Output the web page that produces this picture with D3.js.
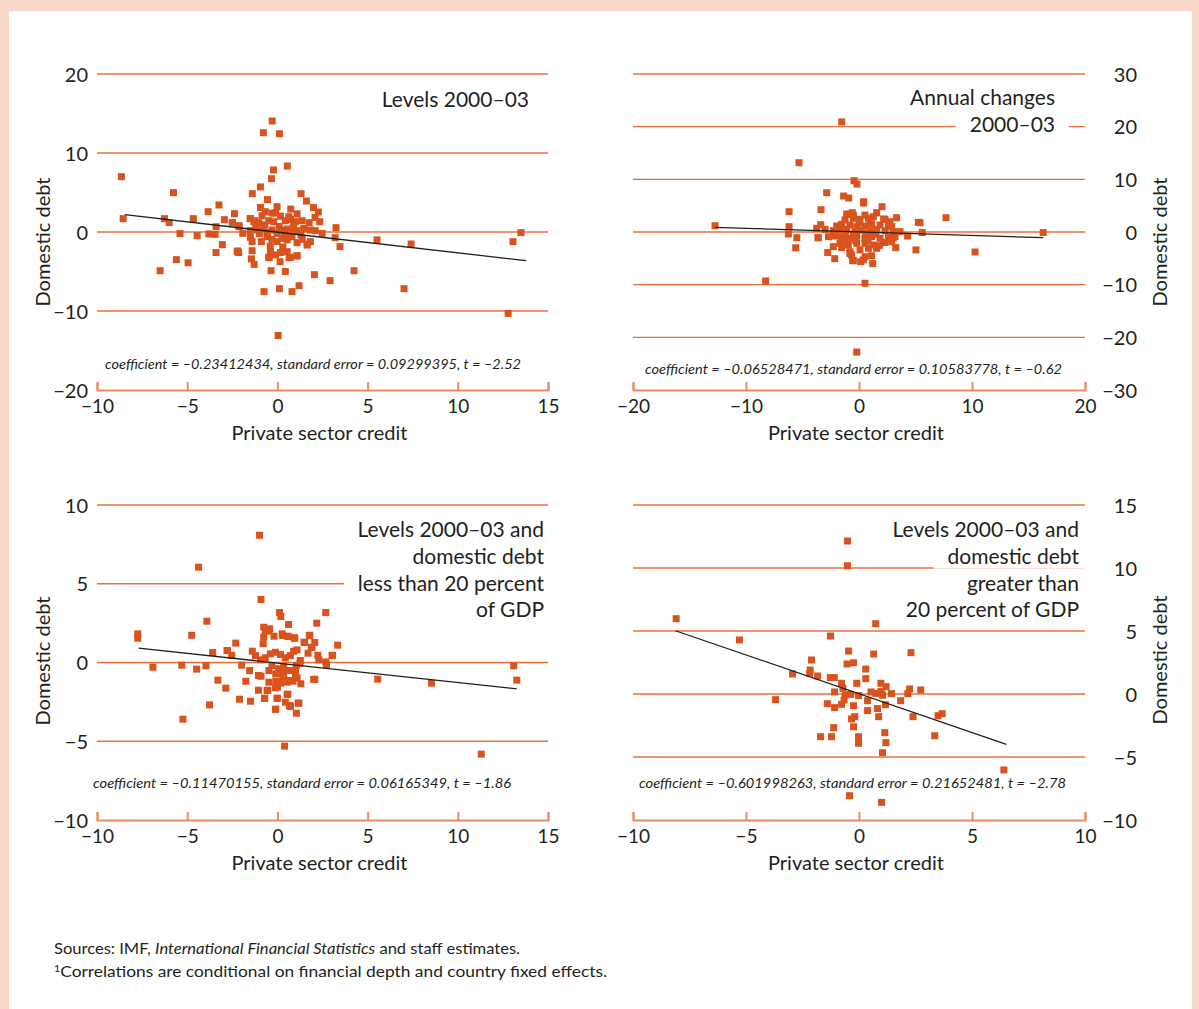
<!DOCTYPE html>
<html><head><meta charset="utf-8">
<script src="https://cdn.jsdelivr.net/npm/d3@7"></script>
<style>
body{margin:0;background:#fff}
svg{display:block}
text{font-family:Lato,'Noto Sans',sans-serif;fill:#231f20}
</style>
</head><body>
<svg id="c" width="1199" height="1009"></svg>
<script>
// ---------- DATA ----------
const p1Points = [[-0.29,14.05],[-0.78,12.57],[0.11,12.44],[0.55,8.35],[-0.22,7.85],[-0.33,6.75],[-8.65,7.0],[-0.94,5.7],[-5.76,4.98],[-1.39,4.85],[1.31,4.85],[1.61,3.92],[-0.55,4.1],[-3.24,3.42],[-0.94,3.1],[-0.02,3.2],[0.74,2.9],[2.0,3.1],[2.27,2.53],[-3.84,2.57],[-2.38,2.32],[-8.55,1.69],[-6.26,1.69],[-6.0,1.18],[-4.66,1.69],[-2.94,1.56],[-3.4,0.67],[-2.49,1.18],[-2.12,0.67],[-1.5,1.7],[-1.3,1.3],[3.25,0.55],[3.2,-0.72],[-5.4,-0.2],[-4.45,-0.46],[-3.8,-0.25],[-3.45,-0.3],[-3.05,-1.6],[-3.4,-2.6],[-2.2,-2.4],[-2.15,-2.6],[3.47,-1.85],[5.52,-1.0],[7.41,-1.52],[13.06,-1.22],[13.5,-0.08],[-5.6,-3.5],[-6.5,-4.9],[-4.95,-3.9],[-1.44,-3.4],[-1.29,-4.1],[-0.46,-3.25],[0.15,-3.76],[-0.35,-4.9],[0.44,-5.0],[1.09,-3.0],[0.65,-3.25],[2.05,-5.4],[2.92,-6.16],[4.25,-4.9],[1.2,-6.8],[0.11,-7.17],[-0.74,-7.55],[0.81,-7.55],[7.02,-7.17],[12.79,-10.3],[0.04,-13.1],
[-0.67,2.57],[-0.3,2.4],[-0.1,2.4],[1.09,2.3],[-0.85,2.06],[0.17,2.0],[0.63,1.94],[-1.51,1.69],[2.09,1.85],[-2.51,1.18],[-2.14,0.8],[-1.26,1.43],[-1.04,1.18],[-0.48,1.43],[-0.2,1.3],[0.44,1.43],[0.74,1.6],[1.0,1.3],[1.37,1.43],[1.76,1.18],[2.35,1.3],[-1.92,-0.17],[-1.5,0.17],[-1.13,0.25],[-0.76,0.46],[-0.57,-0.04],[-0.3,0.25],[-0.02,-0.17],[0.26,0.25],[0.54,0.38],[0.81,0.34],[1.09,0.17],[1.46,0.46],[1.83,0.25],[2.1,0.17],[2.48,-0.17],[-1.5,-0.67],[-1.4,-1.22],[-0.89,-1.22],[-0.57,-0.59],[-0.3,-0.93],[-0.02,-1.22],[0.26,-0.8],[0.54,-1.0],[0.81,-0.59],[1.09,-1.35],[1.37,-0.93],[1.65,-1.52],[1.83,-1.22],[-2.23,-2.49],[-1.4,-2.37],[-0.39,-2.49],[-0.11,-2.9],[0.17,-2.6],[0.54,-2.49],[0.72,-3.2],[1.09,-3.04],[1.65,-1.65],[-0.48,-3.2],
[-0.7,0.9],[0.1,0.7],[0.4,-0.4],[-1.0,-0.2],[0.9,0.9],[-0.4,-1.8],[0.3,-1.9],[1.3,-0.3],[-1.2,0.6],[0.6,-0.2]];
const p2Points = [[-1.53,20.9],[-5.31,13.15],[-0.44,9.74],[-0.18,9.1],[-2.86,7.46],[-1.36,6.83],[-0.91,6.45],[0.41,5.75],[0.41,5.5],[2.04,4.8],[-3.36,4.23],[-6.19,3.86],[-0.88,3.4],[-0.5,3.2],[0.53,3.2],[1.56,3.66],[3.33,2.72],[7.7,2.72],[5.4,1.77],[2.18,2.47],[-12.74,1.2],[-6.19,1.0],[-3.39,1.39],[16.3,-0.1],[-6.25,-0.38],[-5.5,-1.08],[-5.6,-3.0],[-2.77,-3.9],[5.04,-3.4],[10.27,-3.8],[5.6,-0.1],[4.3,-0.76],[3.63,0.06],[-8.26,-9.3],[0.53,-9.74],[-0.2,-22.8],[-2.15,-5.06],[-0.56,-5.44],[0.15,-5.63],[1.21,-6.0],[1.12,-4.5],[-0.8,-4.1],[0.53,-4.7],[-3.63,-1.08],[3.25,-2.97],[-2.27,-2.78],[-1.53,-2.97],[2.3,-2.0],[2.9,-1.84],[3.04,-1.08],
[-1.09,3.4],[-0.59,3.66],[-1.24,2.28],[-0.5,2.6],[0.09,2.4],[0.83,2.6],[1.27,2.9],[2.3,2.4],[2.74,1.96],[-1.97,1.14],[-1.53,1.46],[-0.8,1.33],[-0.2,1.0],[0.53,1.14],[1.12,1.52],[1.86,1.33],[2.6,1.14],[2.9,1.0],[-3.74,0.7],[-3.0,0.5],[-2.27,0.25],[-1.68,0.38],[-1.09,0.5],[-0.35,0.06],[0.24,0.38],[0.97,0.25],[1.56,0.5],[2.3,0.25],[3.04,0.06],[5.25,1.84],[-3.6,-1.08],[-2.7,-0.9],[-2.12,-0.76],[-1.53,-0.9],[-0.8,-1.2],[-0.2,-0.76],[0.53,-1.2],[1.12,-0.9],[1.86,-1.2],[2.6,-1.0],[3.19,-0.9],[-1.68,-2.15],[-0.95,-2.47],[-0.2,-2.15],[0.53,-2.15],[1.27,-2.47],[2.15,-1.96],[-0.8,-3.74],[0.09,-3.4],[0.83,-3.1],[1.56,-3.1],[-0.65,-4.36],[-0.5,-5.44],[0.38,-5.3],
[-0.5,-0.4],[0.6,-0.3],[1.5,-0.4],[-1.2,-0.3],[0.0,1.8],[1.0,1.9],[-0.3,-1.6],[0.8,-1.7],[1.8,-2.6],[-1.1,-1.6]];
const p3Points = [[-0.99,8.08],[-4.37,6.05],[-0.91,4.0],[0.12,3.17],[0.19,2.92],[2.68,3.17],[-3.91,2.62],[0.62,2.41],[2.18,2.5],[-7.74,1.82],[-7.74,1.54],[-4.75,1.73],[-0.76,2.24],[-0.43,2.14],[-0.76,1.61],[-0.19,1.67],[0.29,1.71],[0.58,1.67],[0.96,1.54],[1.8,1.73],[3.34,1.1],[2.07,1.27],[1.91,0.95],[1.51,1.27],[-2.31,1.23],[-2.77,0.76],[-2.53,0.46],[-3.59,0.63],[-1.39,0.72],[3.06,0.46],[2.24,0.46],[2.3,0.17],[2.68,0.04],[2.72,-0.13],[-6.9,-0.3],[-5.3,-0.17],[-4.48,-0.42],[-3.96,-0.21],[-1.98,-0.17],[-1.54,-0.51],[13.1,-0.21],[13.27,-1.12],[5.56,-1.06],[8.54,-1.31],[2.07,-1.06],[1.3,-1.35],[-3.3,-1.12],[-1.75,-1.19],[-2.86,-1.63],[-3.76,-2.69],[-5.24,-3.6],[-2.1,-2.33],[-1.49,-2.46],[-1.05,-1.76],[-0.53,-1.76],[-0.7,-2.27],[-0.09,-2.96],[0.0,-2.27],[0.58,-2.01],[0.44,-2.52],[0.67,-2.73],[1.05,-3.22],[1.19,-2.58],[0.4,-5.31],[11.3,-5.82],[-0.47,-1.25],[0.0,-1.57],[-0.09,-1.19],[0.29,-0.93],[0.62,-1.14],[0.86,-1.19],[1.0,-0.93],[-0.91,-0.87],[-1.05,-0.83],[-0.47,-0.51],[-0.09,-0.72],[0.29,-0.62],[0.67,-0.51],[1.0,-0.51],[1.05,-0.19],[1.25,-0.04],
[-0.67,2.03],[-0.79,1.19],[-0.48,1.99],[0.26,1.82],[0.59,1.65],[0.93,1.57],[1.48,1.29],[1.77,1.71],[3.03,0.44],[1.7,0.59],[1.88,0.97],[-2.79,0.76],[-1.22,0.44],[-0.94,0.17],[-0.67,0.3],[-0.39,0.55],[-0.11,0.65],[0.17,0.51],[0.44,0.3],[0.72,0.44],[0.9,0.72],[1.09,0.8],[-0.3,-0.19],[0.07,-0.4],[0.35,-0.25],[1.27,0.13],[-1.04,-0.83],[0.35,-0.83],[0.72,-1.14],[1.09,-0.97],[-0.11,-1.61],[0.17,-1.31],[0.54,-1.25],[2.01,-1.08],[-0.57,-1.78],[-0.72,-2.27],[-0.02,-2.27],[0.54,-2.03],[0.72,-2.79],[1.15,-2.58],[-0.11,-2.98]];
const p4Points = [[-0.51,12.14],[-0.51,10.18],[-8.09,5.98],[0.74,5.58],[-5.29,4.29],[-1.26,4.6],[-0.46,3.41],[0.65,3.17],[2.3,3.28],[-2.1,2.7],[-0.53,2.38],[-0.24,2.48],[0.3,1.98],[-2.16,1.9],[-2.18,1.64],[-2.94,1.59],[-1.83,1.43],[-1.27,1.3],[-1.09,1.3],[0.3,1.22],[-0.77,0.85],[-0.71,0.45],[-0.1,0.85],[0.97,0.85],[1.2,0.58],[2.24,0.4],[2.73,0.32],[-1.08,0.16],[-0.61,-0.08],[-0.37,-0.03],[-0.02,-0.13],[0.53,0.16],[0.74,0.05],[0.98,0.21],[1.04,-0.1],[1.44,0.03],[2.16,0.03],[1.84,-0.53],[-3.69,-0.45],[-1.4,-0.77],[-1.08,-1.08],[-0.77,-0.82],[-0.66,-0.48],[-0.24,-0.93],[0.38,-0.53],[0.38,-1.32],[0.82,-1.16],[0.87,-1.8],[1.17,-0.85],[-0.19,-1.8],[-0.33,-1.98],[2.39,-1.8],[3.5,-1.72],[3.68,-1.56],[-1.12,-2.67],[-0.24,-2.6],[-1.7,-3.39],[-1.22,-3.39],[-0.02,-3.39],[-0.02,-3.91],[1.14,-3.07],[1.19,-3.86],[3.35,-3.31],[1.04,-4.66],[6.41,-6.03],[-0.42,-8.07],[1.0,-8.6]];

const p1Fit = [[-8.46,2.19],[13.79,-3.63]];
const p2Fit = [[-12.74,0.89],[16.3,-1.08]];
const p3Fit = [[-7.69,0.91],[13.27,-1.67]];
const p4Fit = [[-8.12,5.02],[6.52,-3.99]];

const p1XTicks = [-10,-5,0,5,10,15], p1YTicks = [20,10,0,-10,-20];
const p2XTicks = [-20,-10,0,10,20],  p2YTicks = [30,20,10,0,-10,-20,-30];
const p3XTicks = [-10,-5,0,5,10,15], p3YTicks = [10,5,0,-5,-10];
const p4XTicks = [-10,-5,0,5,10],    p4YTicks = [15,10,5,0,-5,-10];

const p1Title = ["Levels 2000–03"];
const p2Title = ["Annual changes","2000–03"];
const p3Title = ["Levels 2000–03 and","domestic debt","less than 20 percent","of GDP"];
const p4Title = ["Levels 2000–03 and","domestic debt","greater than","20 percent of GDP"];

const p1Coef = "coefficient = –0.23412434, standard error = 0.09299395, t = –2.52";
const p2Coef = "coefficient = –0.06528471, standard error = 0.10583778, t = –0.62";
const p3Coef = "coefficient = –0.11470155, standard error = 0.06165349, t = –1.86";
const p4Coef = "coefficient = –0.601998263, standard error = 0.21652481, t = –2.78";

const xTitle = "Private sector credit";
const yTitle = "Domestic debt";
const sourceNote = ["Sources: IMF, ", "International Financial Statistics", " and staff estimates."];
const footNote = "Correlations are conditional on financial depth and country fixed effects.";

// ---------- LAYOUT ----------
const panels = [
  {pts:p1Points, fit:p1Fit, xt:p1XTicks, yt:p1YTicks, title:p1Title, coef:p1Coef,
   L:97, R:548, T:74, B:390, side:"left", labX:88, ytX:43, ytY:242, titleR:529, titleY:100, coefX:105, coefY:364, coefW:416},
  {pts:p2Points, fit:p2Fit, xt:p2XTicks, yt:p2YTicks, title:p2Title, coef:p2Coef,
   L:633, R:1085, T:74, B:390, side:"right", labX:1137, ytX:1160, ytY:242, titleR:1055, titleY:98, coefX:645, coefY:369, coefW:417},
  {pts:p3Points, fit:p3Fit, xt:p3XTicks, yt:p3YTicks, title:p3Title, coef:p3Coef,
   L:97, R:548, T:505, B:820, side:"left", labX:88, ytX:43, ytY:661, titleR:544, titleY:530, coefX:93, coefY:783, coefW:418},
  {pts:p4Points, fit:p4Fit, xt:p4XTicks, yt:p4YTicks, title:p4Title, coef:p4Coef,
   L:633, R:1085, T:505, B:820, side:"right", labX:1137, ytX:1160, ytY:660, titleR:1079, titleY:530, coefX:639, coefY:783, coefW:427}
];

const GRID = "#e8703f", AXIS = "#ec8c66", DOT = "#d9531e", PINK = "#f8d7c9";

const svg = d3.select("#c");
svg.append("rect").attr("width",1199).attr("height",1009).attr("fill",PINK);
svg.append("rect").attr("x",9).attr("y",11).attr("width",1199-9-7).attr("height",1009-11).attr("fill","#fff");

panels.forEach(p => {
  const xd = d3.extent(p.xt), yd = d3.extent(p.yt);
  const x = d3.scaleLinear().domain(xd).range([p.L, p.R]);
  const y = d3.scaleLinear().domain(yd).range([p.B, p.T]);
  const g = svg.append("g");

  g.selectAll("line.grid").data(p.yt.filter(v => v !== yd[0])).join("line")
    .attr("x1", p.L).attr("x2", p.R).attr("y1", d => y(d)).attr("y2", d => y(d))
    .attr("stroke", GRID).attr("stroke-width", 1.4);

  const xa = g.append("g").attr("transform", `translate(0,${p.B})`)
    .call(d3.axisBottom(x).tickValues(p.xt).tickSize(-8).tickSizeOuter(-8).tickPadding(10).tickFormat(d3.format("d")));
  xa.select(".domain").attr("stroke", AXIS).attr("stroke-width", 2);
  xa.selectAll(".tick line").attr("stroke", AXIS).attr("stroke-width", 2);
  xa.selectAll("text").attr("font-size", 19).attr("font-family", null).attr("fill", "#231f20");

  const axisGen = (p.side === "left" ? d3.axisLeft(y) : d3.axisRight(y))
    .tickValues(p.yt).tickSize(0).tickPadding(0).tickFormat(d3.format("d"));
  const ya = g.append("g").attr("transform", `translate(${p.labX},0)`).call(axisGen);
  ya.select(".domain").remove();
  ya.selectAll("text").attr("font-size", 20).attr("font-family", null).attr("fill", "#231f20")
    .attr("text-anchor","end").attr("x",0).attr("dy","0.35em");

  g.append("text").attr("x", (p.L+p.R)/2 - 3).attr("y", p.B + 50).attr("text-anchor","middle")
    .attr("font-size", 20).text(xTitle);
  g.append("text").attr("transform", `translate(${p.ytX},${p.ytY}) rotate(-90)`)
    .attr("text-anchor","middle").attr("dy","0.35em").attr("font-size", 20).text(yTitle);

  const tg = g.append("g");
  p.title.forEach((line, i) => {
    const cy = p.titleY + i*26.7;
    const r = tg.append("rect").attr("fill","#fff");
    const t = tg.append("text").attr("x", p.titleR).attr("y", cy).attr("dy","0.35em")
      .attr("text-anchor","end").attr("font-size", 21).text(line);
    const w = t.node().getComputedTextLength();
    r.attr("x", p.titleR - w - 14).attr("y", cy - 12).attr("width", w + 28).attr("height", 24);
  });

  g.append("text").attr("x", p.coefX).attr("y", p.coefY).attr("dy","0.35em")
    .attr("font-size", 13.5).attr("font-style","italic")
    .attr("textLength", p.coefW).attr("lengthAdjust","spacingAndGlyphs").text(p.coef);

  g.selectAll("rect.pt").data(p.pts).join("rect")
    .attr("x", d => x(d[0]) - 3.5).attr("y", d => y(d[1]) - 3.5)
    .attr("width", 7).attr("height", 7).attr("fill", DOT);

  g.append("path").datum(p.fit)
    .attr("d", d3.line().x(d => x(d[0])).y(d => y(d[1])))
    .attr("stroke", "#1f1f1f").attr("stroke-width", 1.3).attr("fill","none");
});

const f1 = svg.append("text").attr("x", 54).attr("y", 954).attr("font-size", 16)
  .attr("textLength", 466).attr("lengthAdjust","spacingAndGlyphs");
f1.append("tspan").text(sourceNote[0]);
f1.append("tspan").attr("font-style","italic").text(sourceNote[1]);
f1.append("tspan").text(sourceNote[2]);
const f2 = svg.append("text").attr("x", 54).attr("y", 977).attr("font-size", 16)
  .attr("textLength", 553).attr("lengthAdjust","spacingAndGlyphs");
f2.append("tspan").attr("font-size", 10).attr("dy", -5).text("1");
f2.append("tspan").attr("dy", 5).text(footNote);
</script>
</body></html>
